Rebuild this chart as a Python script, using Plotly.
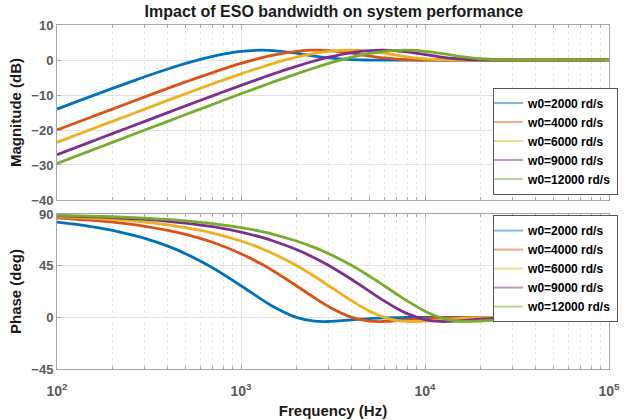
import plotly.graph_objects as go

# Frequency grid (Hz) shared by all curves
freq = [100, 150, 200, 300, 400, 500, 700, 1000, 1300, 1500, 2000, 2500, 3000,
        4000, 5000, 6000, 7000, 8000, 10000, 12000, 15000, 20000, 30000, 50000, 100000]

labels = ["w0=2000 rd/s", "w0=4000 rd/s", "w0=6000 rd/s", "w0=9000 rd/s", "w0=12000 rd/s"]

# Magnitude (dB) for each observer bandwidth
mag_2000 = [-14.02, -10.55, -8.12, -4.80, -2.58, -0.98, 1.06, 2.48, 2.80, 2.69, 1.94, 1.13, 0.58,
            0.10, -0.01, -0.02, -0.02, -0.02, -0.01, -0.01, 0.0, 0.0, 0.0, 0.0, 0.0]
mag_4000 = [-20.01, -16.50, -14.02, -10.55, -8.12, -6.27, -3.59, -0.98, 0.66, 1.41, 2.48, 2.80, 2.69,
            1.94, 1.13, 0.58, 0.26, 0.10, -0.01, -0.02, -0.02, -0.01, 0.0, 0.0, 0.0]
mag_6000 = [-23.53, -20.01, -17.52, -14.02, -11.55, -9.66, -6.84, -3.96, -1.99, -0.98, 0.80, 1.87, 2.48,
            2.80, 2.49, 1.94, 1.38, 0.92, 0.35, 0.10, -0.01, -0.02, -0.01, 0.0, 0.0]
mag_9000 = [-27.05, -23.53, -21.04, -17.52, -15.04, -13.12, -10.24, -7.24, -5.10, -3.96, -1.80, -0.29, 0.80,
            2.12, 2.69, 2.80, 2.63, 2.32, 1.56, 0.92, 0.35, 0.03, -0.02, -0.01, 0.0]
mag_12000 = [-29.54, -26.03, -23.53, -20.01, -17.52, -15.59, -12.70, -9.66, -7.45, -6.27, -3.96, -2.28, -0.98,
             0.80, 1.87, 2.48, 2.75, 2.80, 2.49, 1.94, 1.13, 0.35, -0.01, -0.02, 0.0]

# Phase (deg) for each observer bandwidth
ph_2000 = [82.85, 79.29, 75.76, 68.79, 62.01, 55.46, 43.21, 27.52, 15.40, 9.30, 0.0, -3.28, -3.61,
           -2.17, -1.09, -0.55, -0.29, -0.16, -0.06, -0.03, -0.01, 0.0, 0.0, 0.0, 0.0]
ph_4000 = [86.42, 84.63, 82.85, 79.29, 75.76, 72.26, 65.37, 55.46, 46.15, 40.36, 27.52, 17.17, 9.30,
           0.0, -3.28, -3.61, -2.95, -2.17, -1.09, -0.55, -0.22, -0.06, -0.01, 0.0, 0.0]
ph_6000 = [87.61, 86.42, 85.23, 82.85, 80.48, 78.11, 73.42, 66.50, 59.79, 55.46, 45.16, 35.81, 27.52,
           14.28, 5.33, 0.0, -2.65, -3.59, -3.21, -2.17, -1.09, -0.36, -0.06, 0.0, 0.0]
ph_9000 = [88.41, 87.61, 86.82, 85.23, 83.64, 82.06, 78.90, 74.20, 69.56, 66.50, 59.06, 51.93, 45.16,
           32.93, 22.61, 14.28, 7.86, 3.19, -2.00, -3.59, -3.21, -1.61, -0.36, -0.04, 0.0]
ph_12000 = [88.81, 88.21, 87.61, 86.42, 85.23, 84.04, 81.66, 78.11, 74.59, 72.26, 66.50, 60.90, 55.46,
            45.16, 35.81, 27.52, 20.34, 14.28, 5.33, 0.0, -3.28, -3.21, -1.09, -0.14, 0.0]

mags = [mag_2000, mag_4000, mag_6000, mag_9000, mag_12000]
phases = [ph_2000, ph_4000, ph_6000, ph_9000, ph_12000]

colors = ["#0072BD", "#D95319", "#EDB120", "#7E2F8E", "#77AC30"]
legend_colors = ["#80B8DE", "#ECA98C", "#F6D890", "#BE97C6", "#BBD598"]

FONT = "Liberation Sans, Arial, Helvetica, sans-serif"
AXIS_GRAY = "#a6a6a6"
TICK_GRAY = "#5a5a5a"
TITLE_FONT = dict(family=FONT, size=15, color="#1a1a1a", weight="bold")

fig = go.Figure()

for lab, m, p, c, lc in zip(labels, mags, phases, colors, legend_colors):
    fig.add_trace(go.Scatter(x=freq, y=m, mode="lines", line=dict(color=c, width=2.8, shape="spline"),
                             showlegend=False, xaxis="x", yaxis="y"))
    fig.add_trace(go.Scatter(x=freq, y=p, mode="lines", line=dict(color=c, width=2.8, shape="spline"),
                             showlegend=False, xaxis="x2", yaxis="y2"))
    # legend entries (thin, pale sample lines)
    fig.add_trace(go.Scatter(x=[None], y=[None], mode="lines", name=lab,
                             line=dict(color=lc, width=2), legend="legend",
                             xaxis="x", yaxis="y"))
for lab, lc in zip(labels, legend_colors):
    fig.add_trace(go.Scatter(x=[None], y=[None], mode="lines", name=lab,
                             line=dict(color=lc, width=2), legend="legend2",
                             xaxis="x2", yaxis="y2"))

minor_vals = [k * 10 ** n for n in range(2, 5) for k in range(2, 10)]
major_vals = [100, 1000, 10000, 100000]

xcommon = dict(type="log", range=[2, 5], showline=True, linecolor=AXIS_GRAY, linewidth=1,
               mirror="allticks", ticks="inside", ticklen=4, tickcolor=AXIS_GRAY,
               showgrid=True, gridcolor="#e3e3e3", gridwidth=1, zeroline=False,
               tickvals=major_vals, automargin=False,
               minor=dict(tickvals=minor_vals, ticks="inside", ticklen=3, tickcolor=AXIS_GRAY,
                          showgrid=True, gridcolor="#e6e6e6", griddash="dot", gridwidth=1))
ycommon = dict(showline=True, linecolor=AXIS_GRAY, linewidth=1, mirror="ticks",
               ticks="inside", ticklen=4, tickcolor=AXIS_GRAY, automargin=False,
               showgrid=True, gridcolor="#e3e3e3", gridwidth=1, zeroline=False,
               tickfont=dict(family=FONT, size=13, color=TICK_GRAY, weight="bold"))

legend_common = dict(xanchor="left", yanchor="top", bgcolor="white",
                     bordercolor="#555555", borderwidth=1, itemwidth=30, tracegroupgap=0,
                     indentation=-6,
                     font=dict(family=FONT, size=12, color="black", weight="bold"))

fig.update_layout(
    width=636, height=420,
    margin=dict(l=57, r=27, t=25, b=51),
    paper_bgcolor="white", plot_bgcolor="white",
    title=dict(text="Impact of ESO bandwidth on system performance", x=0.525, xanchor="center",
               y=0.987, yanchor="top",
               font=dict(family=FONT, size=16, color="#1a1a1a", weight="bold")),
    xaxis=dict(**xcommon, anchor="y", domain=[0, 1], showticklabels=False),
    xaxis2=dict(**xcommon, anchor="y2", domain=[0, 1], showticklabels=True,
                ticktext=["10<sup>2</sup>", "10<sup>3</sup>", "10<sup>4</sup>", "10<sup>5</sup>"],
                ticklabelstandoff=9,
                tickfont=dict(family=FONT, size=14, color=TICK_GRAY, weight="bold"),
                title=dict(text="Frequency (Hz)", standoff=7, font=TITLE_FONT)),
    yaxis=dict(**ycommon, anchor="x", domain=[0.4913, 1.0], range=[-40, 10],
               tickvals=[-40, -30, -20, -10, 0, 10],
               title=dict(text="Magnitude (dB)", standoff=6, font=TITLE_FONT)),
    yaxis2=dict(**ycommon, anchor="x2", domain=[0.0, 0.4506], range=[-45, 90],
                tickvals=[-45, 0, 45, 90],
                title=dict(text="Phase (deg)", standoff=6, font=TITLE_FONT)),
    legend=dict(**legend_common, x=0.79, y=0.818),
    legend2=dict(**legend_common, x=0.79, y=0.4475),
)

fig.write_html("out.html")
